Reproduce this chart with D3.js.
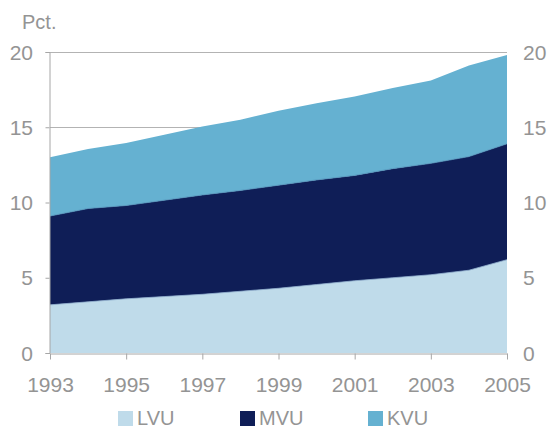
<!DOCTYPE html>
<html><head><meta charset="utf-8">
<script src="https://cdn.jsdelivr.net/npm/d3@7/dist/d3.min.js"></script>
<style>body{margin:0;background:#fff}svg{display:block}text{font-family:"Liberation Sans",Arial,sans-serif;fill:#949494}</style>
</head><body><svg id="c" width="548" height="429"></svg>
<script>
const years = [1993,1994,1995,1996,1997,1998,1999,2000,2001,2002,2003,2004,2005];
const LVU = [3.2,3.4,3.6,3.75,3.9,4.1,4.3,4.55,4.8,5.0,5.2,5.5,6.2];
const MVU = [5.9,6.2,6.2,6.4,6.6,6.7,6.85,6.95,7.0,7.25,7.4,7.55,7.7];
const KVU = [3.9,3.95,4.15,4.35,4.55,4.7,4.95,5.1,5.25,5.35,5.5,6.05,5.9];
const seriesNames = ["LVU","MVU","KVU"];
const colors = ["#bfdbea","#0f1e57","#65b1d1"];
const edgeColors = ["#8fb0cf","#4f8fb8","none"];
const yTicks = [0,5,10,15,20];
const xTicks = [1993,1995,1997,1999,2001,2003,2005];

const svg = d3.select("#c");
const x = d3.scaleLinear().domain([1993,2005]).range([50,507]);
const y = d3.scaleLinear().domain([0,20]).range([353,52]);

const table = years.map((yr,i)=>({year:yr,LVU:LVU[i],MVU:MVU[i],KVU:KVU[i]}));
const stack = d3.stack().keys(seriesNames)(table);

// gridlines
svg.append("g").selectAll("line").data(yTicks.filter(d=>d>0)).join("line")
  .attr("x1",x(1993)).attr("x2",x(2005))
  .attr("y1",d=>Math.round(y(d))+0.5).attr("y2",d=>Math.round(y(d))+0.5)
  .attr("stroke","#b3b3b3").attr("stroke-width",1);

const area = d3.area().x(d=>x(d.data.year)).y0(d=>y(d[0])).y1(d=>y(d[1]));
svg.append("g").selectAll("path").data(stack).join("path")
  .attr("d",area).attr("fill",(d,i)=>colors[i]);

const line = d3.line().x(d=>x(d.data.year)).y(d=>y(d[1]));
svg.append("g").selectAll("path").data(stack.slice(0,2)).join("path")
  .attr("d",line).attr("fill","none").attr("stroke",(d,i)=>edgeColors[i]).attr("stroke-width",0.8);

// left axis
const left = svg.append("g").attr("transform","translate(49.5,0)");
left.call(d3.axisLeft(y).tickValues(yTicks).tickSize(4).tickFormat(""));
left.select(".domain").attr("stroke","#a6a6a6");
left.selectAll(".tick line").attr("stroke","#a6a6a6");

svg.append("g").selectAll("text").data(yTicks).join("text")
  .attr("x",33).attr("y",d=>y(d)).attr("dy","0.36em").attr("text-anchor","end")
  .attr("font-size",21).text(d=>d);
svg.append("g").selectAll("text").data(yTicks).join("text")
  .attr("x",523).attr("y",d=>y(d)).attr("dy","0.36em").attr("text-anchor","start")
  .attr("font-size",21).text(d=>d);

// bottom axis
const bottom = svg.append("g").attr("transform","translate(0,353.5)");
bottom.call(d3.axisBottom(x).tickValues(xTicks).tickSize(6).tickSizeOuter(0).tickFormat(d3.format("d")));
bottom.select(".domain").attr("stroke","#a6a6a6");
bottom.selectAll(".tick line").attr("stroke","#a6a6a6");
bottom.selectAll(".tick text").attr("font-size",21).attr("y",24).attr("dy","0.71em")
  .style("font-family",'"Liberation Sans",Arial,sans-serif').attr("fill","#949494");

svg.append("text").attr("x",22).attr("y",29).attr("font-size",20).text("Pct.");

// legend
const legX = [118,240,368];
const leg = svg.append("g").selectAll("g").data(seriesNames).join("g")
  .attr("transform",(d,i)=>`translate(${legX[i]},410)`);
leg.append("rect").attr("y",1).attr("width",15).attr("height",15).attr("fill",(d,i)=>colors[i]);
leg.append("text").attr("x",19).attr("y",15).attr("font-size",20).text(d=>d);
</script></body></html>
